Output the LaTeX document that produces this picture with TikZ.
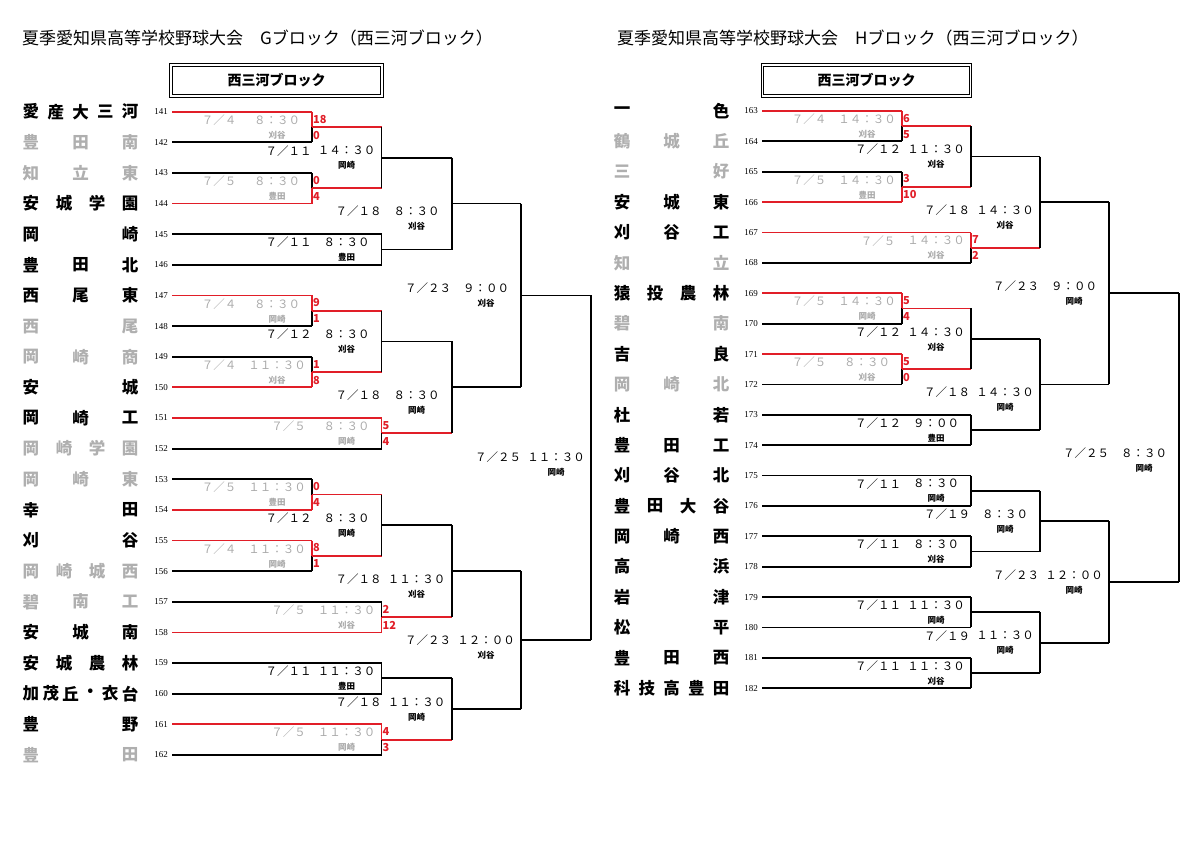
\documentclass[tikz,border=0pt]{standalone}
\usepackage{fontspec}
\setmainfont{Noto Sans CJK JP}
\newfontfamily\numfont{Liberation Serif}
\usetikzlibrary{calc}
\definecolor{teamgray}{RGB}{175,175,175}
\definecolor{labgray}{RGB}{170,170,170}
\definecolor{winred}{RGB}{225,30,40}
\def\resU{u}\def\resL{l}
% one match: name, column, upper, lower, result (n/u/l), date, time, venue, label dy
\newcommand\match[9]{%
  \def\mres{#5}%
  \edef\mucol{\csname oc@#3\endcsname}\edef\mlcol{\csname oc@#4\endcsname}%
  \def\mvu{black}\def\mvl{black}\def\mlab{black}%
  \expandafter\gdef\csname oc@#1\endcsname{black}%
  \ifx\mres\resU\def\mucol{winred}\def\mvu{winred}\def\mlab{labgray}%
    \expandafter\gdef\csname oc@#1\endcsname{winred}\fi
  \ifx\mres\resL\def\mlcol{winred}\def\mvl{winred}\def\mlab{labgray}%
    \expandafter\gdef\csname oc@#1\endcsname{winred}\fi
  \coordinate (#1) at ($(#3 -| #2)!0.5!(#4 -| #2)$);
  \draw[bline,draw=\mucol] (#3) -- (#3 -| #2);
  \draw[bline,draw=\mlcol] (#4) -- (#4 -| #2);
  \draw[bline,draw=\mvu] (#3 -| #2) -- (#1);
  \draw[bline,draw=\mvl] (#4 -| #2) -- (#1);
  \node[datel,text=\mlab] (#1d) at ($(#1)+(-93,#9)$) {#6};
  \node[datel,text=\mlab] (#1t) at ($(#1)+(-35,#9)$) {#7};
  \node[venl,text=\mlab] (#1v) at ($(#1)+(-35,#9+15)$) {#8};
}
\newcommand\scores[3]{%
  \node[score] (#1s1) at ($(#1)+(1,-8)$) {#2};
  \node[score] (#1s2) at ($(#1)+(1,8)$) {#3};
}
\begin{document}
\begin{tikzpicture}[
	x=1pt, y=-1pt,
	bline/.style={line width=1.8pt},
	tname/.style={font=\fontsize{16.5}{16.5}\selectfont\bfseries, inner sep=0pt},
	numl/.style={font=\numfont\fontsize{9}{9}\selectfont, inner sep=0pt},
	datel/.style={font=\fontsize{11.5}{11.5}\selectfont, inner sep=0pt},
	venl/.style={font=\fontsize{8.5}{8.5}\selectfont\bfseries, inner sep=0pt},
	score/.style={font=\fontsize{11}{11}\selectfont\bfseries, text=winred, anchor=west, inner sep=0pt},
	head/.style={font=\fontsize{17}{17}\selectfont, anchor=west, inner sep=0pt},
	titlebox/.style={draw, double, double distance=1.5pt, line width=0.9pt,
		minimum height=31pt, font=\fontsize{14}{14}\selectfont\bfseries},
	]
\useasboundingbox (0,0) rectangle (1200,848);
% columns
\foreach \i/\x in {1/312,2/381.5,3/451.6,4/521,5/591}
	\coordinate (cL\i) at (\x,0);
\foreach \i/\x in {1/902,2/971,3/1040,4/1109,5/1179}
	\coordinate (cR\i) at (\x,0);
% headings
\node[head] (hL) at (22,38) {夏季愛知県高等学校野球大会　Gブロック（西三河ブロック）};
\node[head] (hR) at (617,38) {夏季愛知県高等学校野球大会　Hブロック（西三河ブロック）};
\node[titlebox, minimum width=211pt] (boxL) at (276.5,80.5) {西三河ブロック};
\node[titlebox, minimum width=208pt] (boxR) at (866.7,80.5) {西三河ブロック};
% teams
\foreach \num/\n/\nm/\cl in {
	141/5/{愛,産,大,三,河}/black, 142/3/{豊,田,南}/teamgray, 143/3/{知,立,東}/teamgray,
	144/4/{安,城,学,園}/black, 145/2/{岡,崎}/black, 146/3/{豊,田,北}/black,
	147/3/{西,尾,東}/black, 148/2/{西,尾}/teamgray, 149/3/{岡,崎,商}/teamgray,
	150/2/{安,城}/black, 151/3/{岡,崎,工}/black, 152/4/{岡,崎,学,園}/teamgray,
	153/3/{岡,崎,東}/teamgray, 154/2/{幸,田}/black, 155/2/{刈,谷}/black,
	156/4/{岡,崎,城,西}/teamgray, 157/3/{碧,南,工}/teamgray, 158/3/{安,城,南}/black,
	159/4/{安,城,農,林}/black, 160/6/{加,茂,丘,・,衣,台}/black, 161/2/{豊,野}/black,
	162/2/{豊,田}/teamgray}{
	\pgfmathsetmacro\yy{111.7+30.63*(\num-141)}
	\foreach \ch [count=\k] in \nm {
		\pgfmathsetmacro\xx{31+(\k-1)*99/(\n-1)}
		\node[tname,text=\cl] (t\num c\k) at (\xx,\yy) {\ch};
	}
	\node[numl] (n\num) at (161,\yy) {\num};
	\coordinate (t\num) at (172,\yy);
	\expandafter\gdef\csname oc@t\num\endcsname{black}
}
\foreach \num/\n/\nm/\cl in {
	163/2/{一,色}/black, 164/3/{鶴,城,丘}/teamgray, 165/2/{三,好}/teamgray,
	166/3/{安,城,東}/black, 167/3/{刈,谷,工}/black, 168/2/{知,立}/teamgray,
	169/4/{猿,投,農,林}/black, 170/2/{碧,南}/teamgray, 171/2/{吉,良}/black,
	172/3/{岡,崎,北}/teamgray, 173/2/{杜,若}/black, 174/3/{豊,田,工}/black,
	175/3/{刈,谷,北}/black, 176/4/{豊,田,大,谷}/black, 177/3/{岡,崎,西}/black,
	178/2/{高,浜}/black, 179/2/{岩,津}/black, 180/2/{松,平}/black,
	181/3/{豊,田,西}/black, 182/5/{科,技,高,豊,田}/black}{
	\pgfmathsetmacro\yy{111+30.38*(\num-163)}
	\foreach \ch [count=\k] in \nm {
		\pgfmathsetmacro\xx{622+(\k-1)*99/(\n-1)}
		\node[tname,text=\cl] (t\num c\k) at (\xx,\yy) {\ch};
	}
	\node[numl] (n\num) at (751,\yy) {\num};
	\coordinate (t\num) at (762,\yy);
	\expandafter\gdef\csname oc@t\num\endcsname{black}
}
% G block
\match{m1}{cL1}{t141}{t142}{u}{７／４}{８：３０}{刈谷}{-7}
\scores{m1}{18}{0}
\match{m2}{cL1}{t143}{t144}{l}{７／５}{８：３０}{豊田}{-7}
\scores{m2}{0}{4}
\match{m3}{cL2}{m1}{m2}{n}{７／１１}{１４：３０}{岡崎}{-7}
\match{m4}{cL2}{t145}{t146}{n}{７／１１}{８：３０}{豊田}{-7}
\match{m5}{cL3}{m3}{m4}{n}{７／１８}{８：３０}{刈谷}{8}
\match{m6}{cL1}{t147}{t148}{u}{７／４}{８：３０}{岡崎}{-7}
\scores{m6}{9}{1}
\match{m7}{cL1}{t149}{t150}{l}{７／４}{１１：３０}{刈谷}{-7}
\scores{m7}{1}{8}
\match{m8}{cL2}{m6}{m7}{n}{７／１２}{８：３０}{刈谷}{-7}
\match{m9}{cL2}{t151}{t152}{u}{７／５}{８：３０}{岡崎}{-7}
\scores{m9}{5}{4}
\match{m10}{cL3}{m8}{m9}{n}{７／１８}{８：３０}{岡崎}{8}
\match{m11}{cL4}{m5}{m10}{n}{７／２３}{９：００}{刈谷}{-7}
\match{m12}{cL1}{t153}{t154}{l}{７／５}{１１：３０}{豊田}{-7}
\scores{m12}{0}{4}
\match{m13}{cL1}{t155}{t156}{u}{７／４}{１１：３０}{岡崎}{-7}
\scores{m13}{8}{1}
\match{m14}{cL2}{m12}{m13}{n}{７／１２}{８：３０}{岡崎}{-7}
\match{m15}{cL2}{t157}{t158}{l}{７／５}{１１：３０}{刈谷}{-7}
\scores{m15}{2}{12}
\match{m16}{cL3}{m14}{m15}{n}{７／１８}{１１：３０}{刈谷}{8}
\match{m17}{cL2}{t159}{t160}{n}{７／１１}{１１：３０}{豊田}{-7}
\match{m18}{cL2}{t161}{t162}{u}{７／５}{１１：３０}{岡崎}{-7}
\scores{m18}{4}{3}
\match{m19}{cL3}{m17}{m18}{n}{７／１８}{１１：３０}{岡崎}{-7}
\match{m20}{cL4}{m16}{m19}{n}{７／２３}{１２：００}{刈谷}{0}
\match{m21}{cL5}{m11}{m20}{n}{７／２５}{１１：３０}{岡崎}{-11}
% H block
\match{h1}{cR1}{t163}{t164}{u}{７／４}{１４：３０}{刈谷}{-7}
\scores{h1}{6}{5}
\match{h2}{cR1}{t165}{t166}{l}{７／５}{１４：３０}{豊田}{-7}
\scores{h2}{3}{10}
\match{h3}{cR2}{h1}{h2}{n}{７／１２}{１１：３０}{刈谷}{-7}
\match{h4}{cR2}{t167}{t168}{u}{７／５}{１４：３０}{刈谷}{-7}
\scores{h4}{7}{2}
\match{h5}{cR3}{h3}{h4}{n}{７／１８}{１４：３０}{刈谷}{8}
\match{h6}{cR1}{t169}{t170}{u}{７／５}{１４：３０}{岡崎}{-7}
\scores{h6}{5}{4}
\match{h7}{cR1}{t171}{t172}{u}{７／５}{８：３０}{刈谷}{-7}
\scores{h7}{5}{0}
\match{h8}{cR2}{h6}{h7}{n}{７／１２}{１４：３０}{刈谷}{-7}
\match{h9}{cR2}{t173}{t174}{n}{７／１２}{９：００}{豊田}{-7}
\match{h10}{cR3}{h8}{h9}{n}{７／１８}{１４：３０}{岡崎}{8}
\match{h11}{cR4}{h5}{h10}{n}{７／２３}{９：００}{岡崎}{-7}
\match{h12}{cR2}{t175}{t176}{n}{７／１１}{８：３０}{岡崎}{-7}
\match{h13}{cR2}{t177}{t178}{n}{７／１１}{８：３０}{刈谷}{-7}
\match{h14}{cR3}{h12}{h13}{n}{７／１９}{８：３０}{岡崎}{-7}
\match{h15}{cR2}{t179}{t180}{n}{７／１１}{１１：３０}{岡崎}{-7}
\match{h16}{cR2}{t181}{t182}{n}{７／１１}{１１：３０}{刈谷}{-7}
\match{h17}{cR3}{h15}{h16}{n}{７／１９}{１１：３０}{岡崎}{-7}
\match{h18}{cR4}{h14}{h17}{n}{７／２３}{１２：００}{岡崎}{-7}
\match{h19}{cR5}{h11}{h18}{n}{７／２５}{８：３０}{岡崎}{16}
\end{tikzpicture}
\end{document}
